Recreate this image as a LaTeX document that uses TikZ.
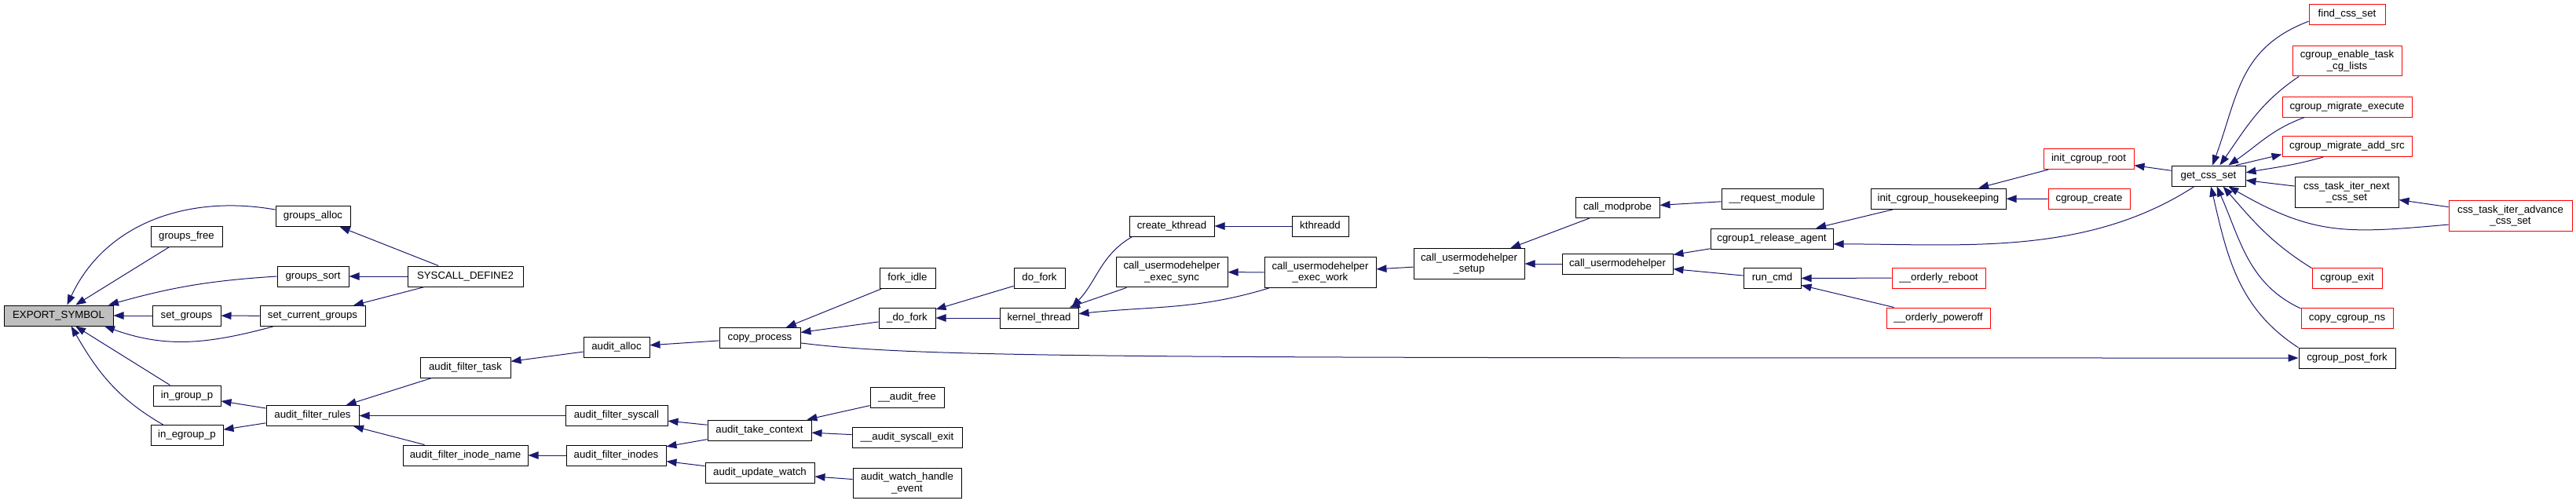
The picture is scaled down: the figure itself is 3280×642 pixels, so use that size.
\documentclass[tikz,border=0pt]{standalone}
\usepackage{fontspec}
\setmainfont{Liberation Sans}
\usepackage{tikz}
\usetikzlibrary{arrows.meta}
\definecolor{edgeblue}{HTML}{191970}
\definecolor{rootgray}{HTML}{BFBFBF}
\definecolor{nodocred}{HTML}{FF0000}

\begin{document}
\begin{tikzpicture}[x=1pt, y=-1pt, font=\fontsize{13.25}{14.5}\selectfont,
    box/.style={draw, line width=1pt, fill=white, inner xsep=3pt, minimum height=26pt, minimum width=#1},
    fn/.style={box=#1, text height=9.6pt, text depth=2.9pt, inner ysep=0pt},
    fnml/.style={box=#1, align=center, inner ysep=6pt},
    nodoc/.style={draw=nodocred},
    root/.style={fill=rootgray},
    call/.style={draw=edgeblue, line width=1pt, -{Triangle[length=13pt, width=9.5pt]}}
]
    \useasboundingbox (0,0) rectangle (3280,642);

    \node[fn=139pt, root] (export) at (74.5,402) {EXPORT\_SYMBOL};
    \node[fn=95pt] (galloc) at (398.5,275.5) {groups\_alloc};
    \node[fn=91pt] (gfree) at (237.5,301) {groups\_free};
    \node[fn=91pt] (gsort) at (398.5,352) {groups\_sort};
    \node[fn=147pt] (sysdef2) at (592.5,352) {SYSCALL\_DEFINE2};
    \node[fn=87pt] (setgrp) at (237.5,402) {set\_groups};
    \node[fn=134pt] (setcur) at (398,402.5) {set\_current\_groups};
    \node[fn=86pt] (ingrp) at (238,504) {in\_group\_p};
    \node[fn=92pt] (inegrp) at (238,554.5) {in\_egroup\_p};
    \node[fn=118pt] (afrules) at (398,529.5) {audit\_filter\_rules};
    \node[fn=115pt] (aftask) at (592.5,468) {audit\_filter\_task};
    \node[fn=159pt] (afinode) at (592.5,580) {audit\_filter\_inode\_name};
    \node[fn=84pt] (aalloc) at (785,442.5) {audit\_alloc};
    \node[fn=130pt] (afsys) at (785,529.5) {audit\_filter\_syscall};
    \node[fn=127pt] (afinodes) at (784.5,580) {audit\_filter\_inodes};
    \node[fn=103pt] (cproc) at (967.5,430.5) {copy\_process};
    \node[fn=132pt] (atake) at (967,548) {audit\_take\_context};
    \node[fn=139pt] (aupd) at (967.5,602) {audit\_update\_watch};
    \node[fn=71pt] (forkidle) at (1155.5,354.5) {fork\_idle};
    \node[fn=72pt] (udofork) at (1155,405) {\_do\_fork};
    \node[fn=94pt] (afree) at (1155,506) {\_\_audit\_free};
    \node[fn=140pt] (asysexit) at (1155,557) {\_\_audit\_syscall\_exit};
    \node[fnml=138pt] (awatch) at (1155,615.5) {audit\_watch\_handle\\\_event};
    \node[fn=65pt] (dofork) at (1323.5,354.5) {do\_fork};
    \node[fn=100pt] (kthread) at (1323,405) {kernel\_thread};
    \node[fn=108pt] (ckthread) at (1492,288) {create\_kthread};
    \node[fnml=142pt] (umhsync) at (1492,346.5) {call\_usermodehelper\\\_exec\_sync};
    \node[fn=72pt] (kthreadd) at (1681,288) {kthreadd};
    \node[fnml=142pt] (umhwork) at (1681,347) {call\_usermodehelper\\\_exec\_work};
    \node[fnml=141pt] (umhsetup) at (1870.5,336) {call\_usermodehelper\\\_setup};
    \node[fn=107pt] (modprobe) at (2059.5,264.5) {call\_modprobe};
    \node[fn=141pt] (umh) at (2059.5,336) {call\_usermodehelper};
    \node[fn=129pt] (reqmod) at (2256.5,253) {\_\_request\_module};
    \node[fn=156pt] (relagent) at (2256,304) {cgroup1\_release\_agent};
    \node[fn=73pt] (runcmd) at (2256.5,354.5) {run\_cmd};
    \node[fn=172pt] (housekeep) at (2468,253) {init\_cgroup\_housekeeping};
    \node[fn=119pt, nodoc] (oreboot) at (2468.5,354) {\_\_orderly\_reboot};
    \node[fn=132pt, nodoc] (opoweroff) at (2468,405) {\_\_orderly\_poweroff};
    \node[fn=115pt, nodoc] (cgroot) at (2659.5,202.5) {init\_cgroup\_root};
    \node[fn=104pt, nodoc] (cgcreate) at (2660,253.5) {cgroup\_create};
    \node[fn=94pt] (getcss) at (2812,224) {get\_css\_set};
    \node[fn=97pt, nodoc] (findcss) at (2988.5,18.5) {find\_css\_set};
    \node[fnml=139pt, nodoc] (cgenable) at (2988.5,77.5) {cgroup\_enable\_task\\\_cg\_lists};
    \node[fn=165pt, nodoc] (migexec) at (2988.5,136) {cgroup\_migrate\_execute};
    \node[fn=165pt, nodoc] (migadd) at (2988.5,186.5) {cgroup\_migrate\_add\_src};
    \node[fnml=132pt] (iternext) at (2988,245) {css\_task\_iter\_next\\\_css\_set};
    \node[fnml=157pt, nodoc] (iteradv) at (3196.5,275) {css\_task\_iter\_advance\\\_css\_set};
    \node[fn=89pt, nodoc] (cgexit) at (2988.5,354.5) {cgroup\_exit};
    \node[fn=117pt, nodoc] (cpcgns) at (2988.5,405.5) {copy\_cgroup\_ns};
    \node[fn=123pt] (postfork) at (2988.5,456) {cgroup\_post\_fork};

    \draw[call] (galloc.170) to[out=170, in=65] (export.51);
    \draw[call] (gfree) -- (export);
    \draw[call] (gsort.west) to[bend right=6] (export.12);
    \draw[call] (setgrp) -- (export);
    \draw[call] (setcur.195) to[out=195, in=-20] (export.-13);
    \draw[call] (ingrp) -- (export);
    \draw[call] (inegrp.156) to[out=150, in=-60] (export.-40);
    \draw[call] (sysdef2) -- (galloc);
    \draw[call] (sysdef2) -- (gsort);
    \draw[call] (sysdef2) -- (setcur);
    \draw[call] (setcur) -- (setgrp);
    \draw[call] (afrules) -- (ingrp);
    \draw[call] (afrules) -- (inegrp);
    \draw[call] (aftask) -- (afrules);
    \draw[call] (afsys) -- (afrules);
    \draw[call] (afinode) -- (afrules);
    \draw[call] (aalloc) -- (aftask);
    \draw[call] (cproc) -- (aalloc);
    \draw[call] (forkidle) -- (cproc);
    \draw[call] (udofork) -- (cproc);
    \draw[call] (cproc.-7) .. controls +(150,19) and +(-1500,0) .. (postfork.west);
    \draw[call] (dofork) -- (udofork);
    \draw[call] (kthread) -- (udofork);
    \draw[call] (ckthread.195) to[out=210, in=46] (kthread.18);
    \draw[call] (umhsync) -- (kthread);
    \draw[call] (umhwork.197) to[out=197, in=6] (kthread.6);
    \draw[call] (kthreadd) -- (ckthread);
    \draw[call] (umhwork) -- (umhsync);
    \draw[call] (umhsetup) -- (umhwork);
    \draw[call] (modprobe) -- (umhsetup);
    \draw[call] (umh) -- (umhsetup);
    \draw[call] (reqmod) -- (modprobe);
    \draw[call] (relagent) -- (umh);
    \draw[call] (runcmd) -- (umh);
    \draw[call] (housekeep) -- (relagent);
    \draw[call] (getcss.217) to[out=213, in=0, looseness=0.9] (relagent.-5);
    \draw[call] (oreboot) -- (runcmd);
    \draw[call] (opoweroff) -- (runcmd);
    \draw[call] (cgroot) -- (housekeep);
    \draw[call] (cgcreate) -- (housekeep);
    \draw[call] (getcss) -- (cgroot);
    \draw[call] (atake) -- (afsys);
    \draw[call] (atake) -- (afinodes);
    \draw[call] (aupd) -- (afinodes);
    \draw[call] (afinodes) -- (afinode);
    \draw[call] (afree) -- (atake);
    \draw[call] (asysexit) -- (atake);
    \draw[call] (awatch) -- (aupd);
    \draw[call] (findcss.190) to[out=201, in=70, looseness=1.1] (getcss.69);
    \draw[call] (cgenable.198) to[out=214, in=55] (getcss.43);
    \draw[call] (migexec.194) to[out=200, in=34] (getcss.28);
    \draw[call] (getcss.21) -- (migadd.187);
    \draw[call] (migadd.204) to[out=196, in=10] (getcss.5);
    \draw[call] (iternext) -- (getcss);
    \draw[call] (iteradv.188) to[out=185, in=-30, looseness=1.15] (getcss.-28);
    \draw[call] (iteradv) -- (iternext);
    \draw[call] (cgexit.164) to[out=148, in=-49] (getcss.-36);
    \draw[call] (cpcgns.168) to[out=155, in=-66] (getcss.-52);
    \draw[call] (postfork.168) to[out=147, in=-77] (getcss.-77);
\end{tikzpicture}
\end{document}
